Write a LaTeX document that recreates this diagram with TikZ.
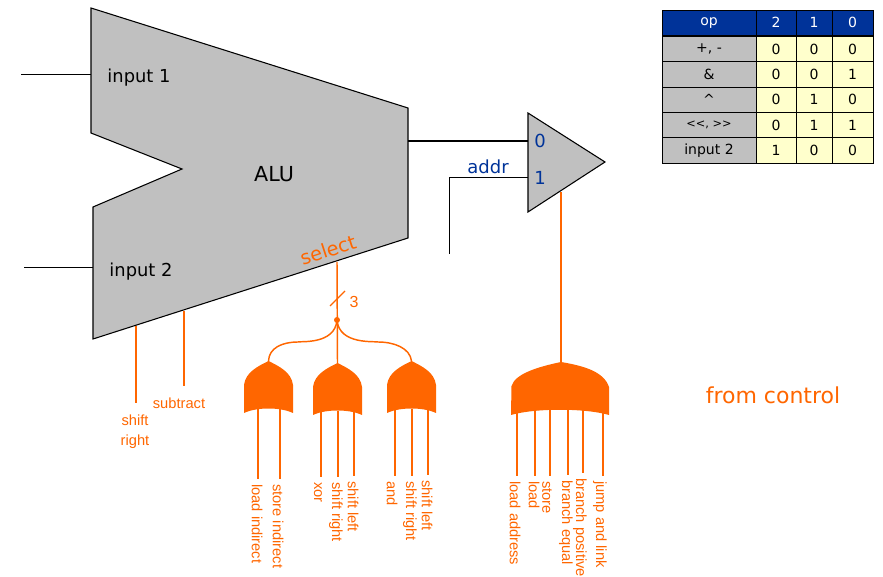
\documentclass[tikz,border=0pt]{standalone}
\usepackage{fontspec}
\setmainfont{DejaVu Sans}
\newfontfamily\ctrlfont{Liberation Sans}
\usepackage{xcolor}
\usetikzlibrary{calc,positioning}
\definecolor{ctrlorange}{HTML}{FF6600}
\definecolor{unitgrey}{HTML}{C0C0C0}
\definecolor{headblue}{HTML}{003399}
\definecolor{cellyellow}{HTML}{FFFFCC}
\tikzset{
    unit/.style={fill=unitgrey,draw=black,line width=0.8pt,line join=miter},
    datawire/.style={draw=black,line width=0.75pt},
    ctrlwire/.style={draw=ctrlorange,line width=1.1pt},
    ctrllabel/.style={text=ctrlorange,font=\ctrlfont\fontsize{11}{13}\selectfont,inner sep=0pt},
    portlabel/.style={font=\fontsize{13.4}{15}\selectfont,inner sep=0pt},
    bluelabel/.style={text=headblue,font=\fontsize{13.5}{15}\selectfont,inner sep=0pt},
    optext/.style={font=\fontsize{10.5}{12}\selectfont,draw=black,line width=0.7pt,inner sep=0pt,minimum height=19pt},
}
\begin{document}
\begin{tikzpicture}[x=0.75pt,y=-0.75pt]
        \useasboundingbox (0,0) rectangle (883,577);
        %units
        \draw[unit] (91,8) -- (408,108) -- (408,238) -- (93,339) -- (93,207) -- (182,169) -- (91,133) -- cycle;
        \draw[unit] (528,113) -- (605,162) -- (528,212) -- cycle;

        %unit texts
        \node[portlabel] (inA) at (139,77.5) {input 1};
        \node[portlabel] (inB) at (141,271.5) {input 2};
        \node[font=\fontsize{15.5}{17}\selectfont,inner sep=0pt] (alu) at (274,174) {ALU};
        \node[text=ctrlorange,font=\fontsize{14.5}{16}\selectfont,rotate=18,inner sep=0pt] (select) at (328,250) {select};
        \node[bluelabel] (mux0) at (540,141) {0};
        \node[bluelabel] (mux1) at (540,178) {1};
        \node[bluelabel] (addr) at (488,167) {addr};
        \node[text=ctrlorange,font=\fontsize{16.5}{19}\selectfont,inner sep=0pt] (control) at (773,395) {from control};

        %data wires
        \coordinate (inAend) at (21,75);
        \coordinate (inAport) at (91,75);
        \coordinate (inBend) at (24,268);
        \coordinate (inBport) at (93,268);
        \coordinate (aluout) at (408,141);
        \coordinate (muxA) at (528,141);
        \coordinate (muxB) at (528,178);
        \coordinate (addrend) at (449,254);
        \draw[datawire] (inAend) -- (inAport);
        \draw[datawire] (inBend) -- (inBport);
        \draw[datawire,line width=1.1pt] (aluout) -- (muxA);
        \draw[datawire] (addrend) |- (muxB);

        %gates
        \foreach \g/\x/\y in {gatea/268.5/361,gateb/337.5/363,gatec/411.5/361}{
            \begin{scope}[shift={(\x,\y)}]
                \coordinate (\g) at (0,0);
                \coordinate (base\g) at (0,48);
                \fill[ctrlorange] (0,0) .. controls (10,5) and (23,11) .. (24.5,24) -- (24.5,52)
                    .. controls (12,46) and (-12,46) .. (-24.5,52) -- (-24.5,24)
                    .. controls (-23,11) and (-10,5) .. (0,0) -- cycle;
            \end{scope}
        }
        \coordinate (gated) at (561,362);
        \coordinate (basegated) at (561,410);
        \fill[ctrlorange] (gated) .. controls (585,366) and (604,372) .. (609,387) -- (609,415)
            .. controls (585,408) and (535,408) .. (511,415) -- (511.5,386)
            .. controls (515,374) and (537,367) .. (gated) -- cycle;

        %select lines
        \coordinate (selport) at (337,262);
        \coordinate (seljoin) at (337,320);
        \coordinate (slashA) at (330,306);
        \coordinate (slashB) at (345,291);
        \draw[ctrlwire] (selport) -- (gateb);
        \draw[ctrlwire,line width=0.9pt] (slashA) -- (slashB);
        \fill[ctrlorange] (seljoin) circle (3);
        \node[ctrllabel,font=\ctrlfont\fontsize{12}{14}\selectfont] (width) at (354,302) {3};
        \draw[ctrlwire] (seljoin) .. controls (335,345) and (300,341) .. (298,342) .. controls (282,342) and (269,348) .. (gatea);
        \draw[ctrlwire] (seljoin) .. controls (339,345) and (375,341) .. (378,342) .. controls (394,342) and (410,348) .. (gatec);
        \coordinate (muxsel) at (561,192);
        \draw[ctrlwire] (muxsel) -- (gated);

        %alu control lines
        \coordinate (shiftport) at (136,326);
        \coordinate (shiftend) at (136,403);
        \coordinate (subport) at (184,311);
        \coordinate (subend) at (184,386);
        \draw[ctrlwire] (shiftport) -- (shiftend);
        \draw[ctrlwire] (subport) -- (subend);
        \node[ctrllabel,align=center,below=8.5pt of shiftend,xshift=-0.75pt,font=\ctrlfont\fontsize{11}{15.5}\selectfont] (shift) {shift\\right};
        \node[ctrllabel] (subtract) at (179,403) {subtract};

        %gate inputs
        \foreach \n/\x/\y/\tx/\g/\t in {
            lia/258/479/257/gatea/load indirect,
            sia/280/479/278/gatea/store indirect,
            xob/321/477/318/gateb/xor,
            srb/338/477/336/gateb/shift right,
            slb/354/476/353/gateb/shift left,
            anc/395/476/392/gatec/and,
            src/412/476/410/gatec/shift right,
            slc/428/475/427/gatec/shift left,
            lad/517/476/515/gated/load address,
            lod/535/476/534/gated/load,
            sto/550/476/547/gated/store,
            bre/568/475/566/gated/branch equal,
            brp/583/473/580/gated/branch positive,
            jal/603/476/600/gated/jump and link}{
            \coordinate (\n) at (\x,\y);
            \draw[ctrlwire] (\n) -- (\n |- base\g);
            \node[ctrllabel,rotate=-90,anchor=west] (txt\n) at (\tx,\y+5) {\t};
        }

        %table
        \foreach \r/\op/\a/\b/\c in {0/{+, -}/0/0/0,1/\&/0/0/1,2/\^{}/0/1/0,3/{\fontsize{8.5}{10}\selectfont{<}{<}, {>}{>}}/0/1/1,4/input 2/1/0/0}{
            \node[optext,fill=unitgrey,minimum width=70.5pt] (op\r) at (709,49+\r*25.35) {\op};
            \node[optext,fill=cellyellow,minimum width=30pt] (bitb\r) at (776,49+\r*25.35) {\a};
            \node[optext,fill=cellyellow,minimum width=27pt] (bita\r) at (814,49+\r*25.35) {\b};
            \node[optext,fill=cellyellow,minimum width=30.75pt] (bitz\r) at (852.5,49+\r*25.35) {\c};
        }
        \node[optext,text=white,fill=headblue,minimum width=70.5pt,above=0pt of op0] (ophead) {op};
        \node[optext,text=white,fill=headblue,minimum width=30pt,above=0pt of bitb0] (headb) {2};
        \node[optext,text=white,fill=headblue,minimum width=27pt,above=0pt of bita0] (heada) {1};
        \node[optext,text=white,fill=headblue,minimum width=30.75pt,above=0pt of bitz0] (headz) {0};
\end{tikzpicture}
\end{document}
